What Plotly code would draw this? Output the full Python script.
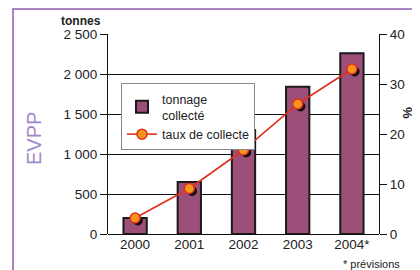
import plotly.graph_objects as go

years = ["2000", "2001", "2002", "2003", "2004*"]
tonnage = [200, 650, 1300, 1840, 2260]
taux = [3.2, 9.1, 16.8, 26.0, 33.0]
left_ticks = [0, 500, 1000, 1500, 2000, 2500]
left_labels = ["0", "500", "1 000", "1 500", "2 000", "2 500"]
right_ticks = [0, 10, 20, 30, 40]

W, H = 420, 270
OX, OY = 8, 8  # page body offset
# plot area in screen pixels: left 108, right 379, top 34, bottom 234
L = 108 - OX
T = 34 - OY
R = W - (379 - OX)
B = H - (234 - OY)
pw, ph = W - L - R, H - T - B

def px(x):
    return (x - OX - L) / pw

def py(y):
    return (H - B - (y - OY)) / ph

FONT = "Liberation Sans, Arial, sans-serif"
fig = go.Figure()

fig.add_trace(go.Bar(
    x=years, y=tonnage, name="tonnage<br>collecté",
    marker=dict(color="#9c4f78", line=dict(color="#1a1a1a", width=2)),
    width=0.43, xaxis="x", yaxis="y",
))
# shadow for markers
fig.add_trace(go.Scatter(
    x=years, y=taux, mode="markers", showlegend=False, hoverinfo="skip",
    marker=dict(size=10, color="#111111"), xaxis="x2", yaxis="y3",
))
fig.add_trace(go.Scatter(
    x=years, y=taux, mode="lines+markers", name="taux de collecte",
    line=dict(color="#e0301e", width=1.6),
    marker=dict(size=10, color="#f7941d", line=dict(color="#e0301e", width=1.5)),
    xaxis="x3", yaxis="y2",
))

def note(text, x, y, size, color="#222222", angle=0):
    return dict(text=text, xref="paper", yref="paper", x=px(x), y=py(y),
                xanchor="center", yanchor="middle", showarrow=False,
                textangle=angle, font=dict(size=size, color=color))

fig.update_layout(
    width=W, height=H,
    margin=dict(l=L, r=R, t=T, b=B, pad=0, autoexpand=False),
    paper_bgcolor="white", plot_bgcolor="white",
    font=dict(family=FONT, size=13, color="#222222"),
    xaxis=dict(type="category", range=[-0.5, 4.5], showgrid=False, ticks="",
               showline=False, tickfont=dict(size=13.5), automargin=False),
    xaxis2=dict(type="category", range=[-0.5 - 0.05, 4.5 - 0.05], overlaying="x",
                visible=False, automargin=False),
    xaxis3=dict(type="category", range=[-0.5, 4.5], overlaying="x",
                visible=False, automargin=False),
    yaxis=dict(range=[0, 2500], tickvals=left_ticks, ticktext=left_labels,
               showgrid=True, gridcolor="#111111", gridwidth=1,
               showline=True, linecolor="#111111", linewidth=1,
               ticks="outside", ticklen=7, tickcolor="#111111",
               zeroline=True, zerolinecolor="#111111", zerolinewidth=1,
               tickfont=dict(size=13.5), automargin=False),
    yaxis2=dict(range=[0, 40], tickvals=right_ticks, overlaying="y", side="right",
                showgrid=False, showline=True, linecolor="#111111", linewidth=1,
                ticks="outside", ticklen=7, tickcolor="#111111", zeroline=False,
                tickfont=dict(size=13.5), automargin=False),
    yaxis3=dict(range=[0 + 0.5, 40 + 0.5], overlaying="y", visible=False,
                automargin=False),
    legend=dict(x=px(121), y=py(83), xanchor="left", yanchor="top",
                bgcolor="white", bordercolor="#888888", borderwidth=1,
                font=dict(size=12.5, color="#222222"), tracegroupgap=0,
                itemwidth=30),
    showlegend=True,
    shapes=[dict(type="rect", xref="paper", yref="paper",
                 x0=px(13), x1=px(460), y0=py(300), y1=py(9),
                 line=dict(color="#8e5bb0", width=1.5), layer="below")],
    annotations=[
        note("<b>tonnes</b>", 81, 21, 12),
        note("EVPP", 34, 139, 20, color="#a286cc", angle=-90),
        note("<b>%</b>", 408, 113, 13, angle=90),
        note("* prévisions", 371, 264, 11),
    ],
)

fig.write_html("out.html")
